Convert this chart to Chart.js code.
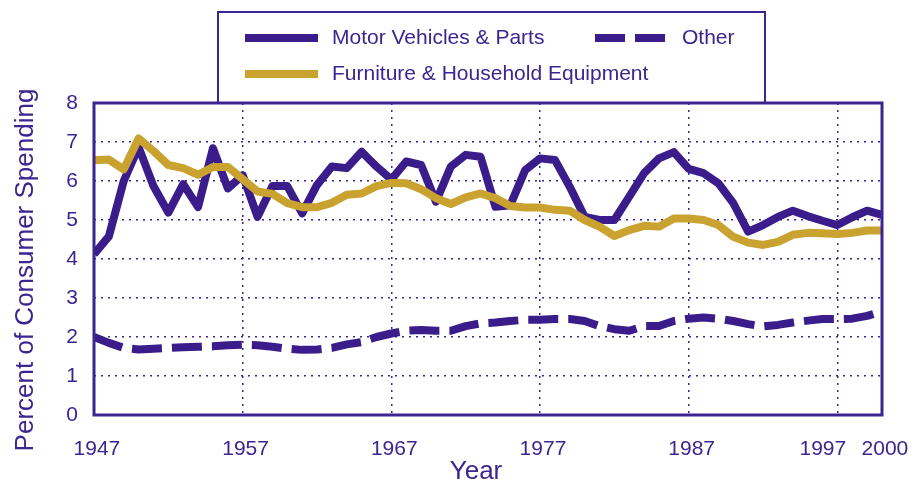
<!DOCTYPE html>
<html>
<head>
<meta charset="utf-8">
<script src="https://cdn.jsdelivr.net/npm/chart.js@4.4.1/dist/chart.umd.min.js"></script>
<style>
  html, body { margin: 0; padding: 0; background: #fff; }
  #wrap { width: 924px; height: 484px; position: relative; }
</style>
</head>
<body>
<div id="wrap"><canvas id="grafico"></canvas></div>
<script>
// Datos (porcentaje del gasto de consumo)
const years = [1947, 1948, 1949, 1950, 1951, 1952, 1953, 1954, 1955, 1956,
  1957, 1958, 1959, 1960, 1961, 1962, 1963, 1964, 1965, 1966,
  1967, 1968, 1969, 1970, 1971, 1972, 1973, 1974, 1975, 1976,
  1977, 1978, 1979, 1980, 1981, 1982, 1983, 1984, 1985, 1986,
  1987, 1988, 1989, 1990, 1991, 1992, 1993, 1994, 1995, 1996,
  1997, 1998, 1999, 2000];

const motorVehicles = [4.12, 4.58, 6.0, 6.87, 5.87, 5.19, 5.92, 5.33, 6.84, 5.81,
  6.15, 5.08, 5.87, 5.87, 5.17, 5.9, 6.37, 6.33, 6.75, 6.37,
  6.04, 6.5, 6.41, 5.47, 6.37, 6.67, 6.62, 5.34, 5.38, 6.28,
  6.58, 6.54, 5.85, 5.08, 5.0, 5.0, 5.6, 6.2, 6.58, 6.74,
  6.31, 6.2, 5.94, 5.43, 4.7, 4.87, 5.08, 5.24, 5.1, 4.98,
  4.87, 5.07, 5.24, 5.13];

const furniture = [6.53, 6.55, 6.3, 7.09, 6.77, 6.41, 6.33, 6.16, 6.36, 6.36,
  6.05, 5.73, 5.67, 5.43, 5.33, 5.33, 5.44, 5.65, 5.68, 5.87,
  5.95, 5.94, 5.79, 5.56, 5.41, 5.58, 5.68, 5.56, 5.36, 5.32,
  5.32, 5.26, 5.24, 5.0, 4.83, 4.59, 4.74, 4.85, 4.83, 5.04,
  5.04, 5.0, 4.87, 4.57, 4.42, 4.36, 4.44, 4.62, 4.67, 4.66,
  4.64, 4.67, 4.73, 4.73];

const other = [2.0, 1.85, 1.72, 1.68, 1.7, 1.72, 1.74, 1.75, 1.76, 1.79,
  1.8, 1.79, 1.75, 1.7, 1.67, 1.68, 1.72, 1.81, 1.87, 2.0,
  2.09, 2.16, 2.18, 2.16, 2.16, 2.28, 2.35, 2.37, 2.41, 2.44,
  2.44, 2.46, 2.46, 2.41, 2.28, 2.2, 2.16, 2.28, 2.28, 2.41,
  2.47, 2.5, 2.47, 2.41, 2.33, 2.27, 2.31, 2.37, 2.42, 2.46,
  2.46, 2.47, 2.54, 2.65];

const xTicks = [1947, 1957, 1967, 1977, 1987, 1997, 2000];
const yTicks = [0, 1, 2, 3, 4, 5, 6, 7, 8];

const ink = "#3b2590";
const purple = "#3a1c8a";
const gold = "#c9a230";
const fuente = "'Liberation Sans', Arial, sans-serif";

const puntos = (vals) => years.map((y, i) => ({ x: y, y: vals[i] }));

// Etiquetas del eje x: 1997 va corrida a la izquierda para no chocar con 2000
const etiquetaX = (v) => (v === 1997 ? "1997     " : " " + v);

// Marco, leyenda y títulos dibujados a mano
const marcoYLeyenda = {
  id: "marcoYLeyenda",
  afterDraw(chart) {
    const { ctx, chartArea: a } = chart;
    ctx.save();
    ctx.strokeStyle = ink;
    ctx.lineWidth = 3;
    ctx.strokeRect(a.left, a.top, a.right - a.left, a.bottom - a.top);

    // caja de la leyenda
    ctx.lineWidth = 2;
    ctx.strokeRect(218, 12, 547, a.top - 12);

    const items = [
      { ds: 0, x: 245, y: 38 },
      { ds: 2, x: 595, y: 38 },
      { ds: 1, x: 245, y: 74 },
    ];
    items.forEach((it) => {
      const d = chart.data.datasets[it.ds];
      ctx.beginPath();
      ctx.lineWidth = 8;
      ctx.strokeStyle = d.borderColor;
      ctx.setLineDash(d.borderDash || []);
      ctx.moveTo(it.x, it.y);
      ctx.lineTo(it.x + 73, it.y);
      ctx.stroke();
      ctx.setLineDash([]);
      ctx.fillStyle = ink;
      ctx.font = "21px " + fuente;
      ctx.textBaseline = "middle";
      ctx.textAlign = "left";
      ctx.fillText(d.label, it.x + 87, it.y);
    });

    // títulos de ejes
    ctx.fillStyle = ink;
    ctx.font = "26px " + fuente;
    ctx.textAlign = "center";
    ctx.textBaseline = "middle";
    ctx.fillText("Year", 476, 472);
    ctx.translate(26, 270);
    ctx.rotate(-Math.PI / 2);
    ctx.fillText("Percent of Consumer Spending", 0, 0);
    ctx.restore();
  },
};

const ctx = document.getElementById("grafico").getContext("2d");
const grafico = new Chart(ctx, {
  type: "line",
  data: {
    datasets: [
      {
        label: "Motor Vehicles & Parts",
        data: puntos(motorVehicles),
        borderColor: purple,
        borderWidth: 8,
        order: 1,
      },
      {
        label: "Furniture & Household Equipment",
        data: puntos(furniture),
        borderColor: gold,
        borderWidth: 8,
        order: 0,
      },
      {
        label: "Other",
        data: puntos(other),
        borderColor: purple,
        borderWidth: 8,
        borderDash: [30, 10],
        order: 2,
      },
    ],
  },
  options: {
    responsive: true,
    maintainAspectRatio: false,
    animation: false,
    layout: { padding: { top: 103, right: 42, left: 0, bottom: 0 } },
    elements: {
      point: { radius: 0 },
      line: { tension: 0, borderJoinStyle: "round", borderCapStyle: "butt" },
    },
    plugins: { legend: { display: false }, tooltip: { enabled: false } },
    scales: {
      x: {
        type: "linear",
        min: 1947,
        max: 2000,
        afterBuildTicks: (s) => { s.ticks = xTicks.map((v) => ({ value: v })); },
        afterFit: (s) => {
          s.height = 69;
          s.paddingLeft = 0;
          s.paddingRight = 0;
        },
        grid: { color: ink, lineWidth: 1.5, drawTicks: false },
        border: { display: false, dash: [2, 5] },
        ticks: {
          color: ink,
          font: { family: fuente, size: 21 },
          padding: 22,
          autoSkip: false,
          maxRotation: 0,
          callback: etiquetaX,
        },
      },
      y: {
        min: 0,
        max: 8,
        afterBuildTicks: (s) => { s.ticks = yTicks.map((v) => ({ value: v })); },
        afterFit: (s) => { s.width = 94; },
        grid: { color: ink, lineWidth: 1.5, drawTicks: false },
        border: { display: false, dash: [2, 5] },
        ticks: {
          color: ink,
          font: { family: fuente, size: 21 },
          padding: 16,
        },
      },
    },
  },
  plugins: [marcoYLeyenda],
});
</script>
</body>
</html>
